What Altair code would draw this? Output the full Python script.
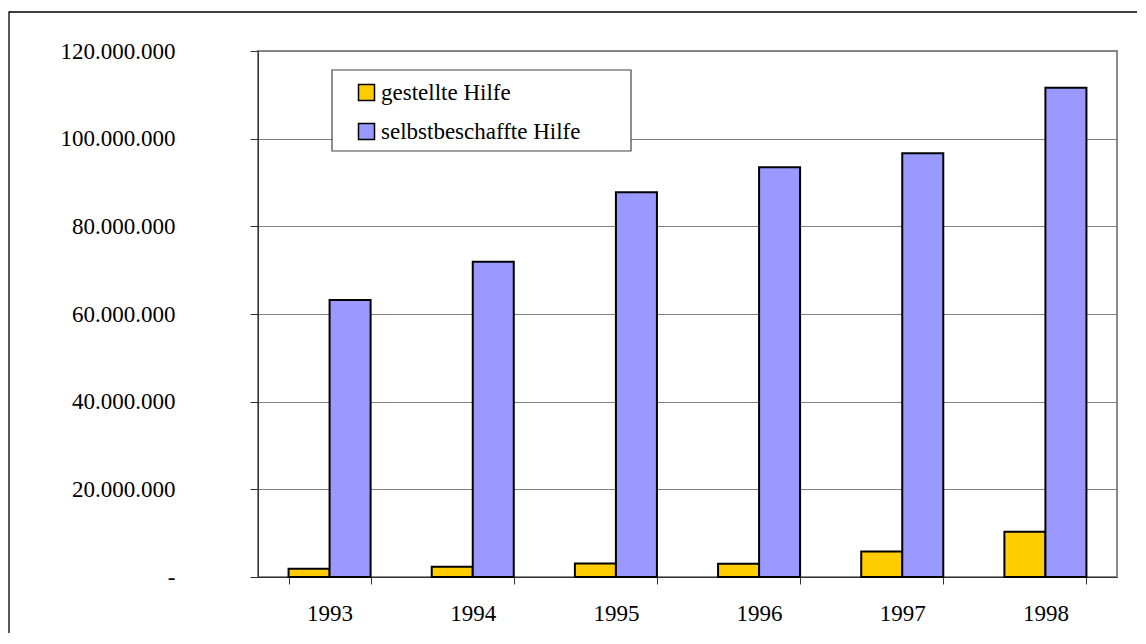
import altair as alt
import pandas as pd

years = ["1993", "1994", "1995", "1996", "1997", "1998"]
series = ["gestellte Hilfe", "selbstbeschaffte Hilfe"]
gestellt = [1900000, 2350000, 3100000, 3000000, 5800000, 10300000]
selbst = [63200000, 71900000, 87800000, 93500000, 96700000, 111600000]
y_ticks = [0, 20000000, 40000000, 60000000, 80000000, 100000000, 120000000]
colors = ["#FFCC00", "#9999FF"]

rows = []
for i, y in enumerate(years):
    rows.append({"year": y, "series": series[0], "value": gestellt[i]})
    rows.append({"year": y, "series": series[1], "value": selbst[i]})
df = pd.DataFrame(rows)

FONT = "Liberation Serif"
FS = 23
one = pd.DataFrame({"k": [0]})

frame = alt.Chart(one).mark_rect(filled=False, stroke="black", strokeWidth=1.3).encode(
    x=alt.value(-249), x2=alt.value(893), y=alt.value(-39), y2=alt.value(598)
)

legend_box = alt.Chart(one).mark_rect(fill="white", stroke="#444444", strokeWidth=1.2).encode(
    x=alt.value(74), x2=alt.value(373), y=alt.value(19), y2=alt.value(100)
)

bars = alt.Chart(df).mark_bar(stroke="black", strokeWidth=2).encode(
    x=alt.X(
        "year:N",
        sort=years,
        scale=alt.Scale(paddingInner=0.427, paddingOuter=0.2135),
        axis=alt.Axis(
            title=None,
            labelAngle=0,
            tickBand="extent",
            tickSize=7,
            tickColor="#333333",
            domainColor="#333333",
            labelFont=FONT,
            labelFontSize=FS,
            labelColor="black",
            labelPadding=18,
        ),
    ),
    xOffset=alt.XOffset("series:N", sort=series),
    y=alt.Y(
        "value:Q",
        scale=alt.Scale(domain=[0, 120000000], nice=False),
        axis=alt.Axis(
            title=None,
            values=y_ticks,
            grid=True,
            gridColor="#808080",
            gridWidth=1,
            tickSize=8,
            tickColor="#333333",
            domainColor="#333333",
            labelFont=FONT,
            labelFontSize=FS,
            labelColor="black",
            labelPadding=75,
            labelExpr="datum.value == 0 ? '-' : replace(replace(format(datum.value, ','), ',', '.'), ',', '.')",
        ),
    ),
    color=alt.Color(
        "series:N",
        scale=alt.Scale(domain=series, range=colors),
        legend=alt.Legend(
            title=None,
            orient="none",
            legendX=97,
            legendY=30,
            padding=0,
            rowPadding=15,
            symbolType="square",
            symbolSize=256,
            symbolStrokeColor="black",
            symbolStrokeWidth=1.5,
            labelFont=FONT,
            labelFontSize=FS,
            labelColor="black",
            labelOffset=3,
            labelLimit=400,
        ),
    ),
)

chart = alt.layer(frame, legend_box, bars).properties(
    width=859,
    height=526,
    autosize=alt.AutoSizeParams(type="none"),
    padding={"left": 250, "top": 43, "right": 20, "bottom": 56},
    background="white",
).configure_view(stroke="#888888", strokeWidth=2)

chart.save("out.html", embed_options={"renderer": "svg", "actions": False})
